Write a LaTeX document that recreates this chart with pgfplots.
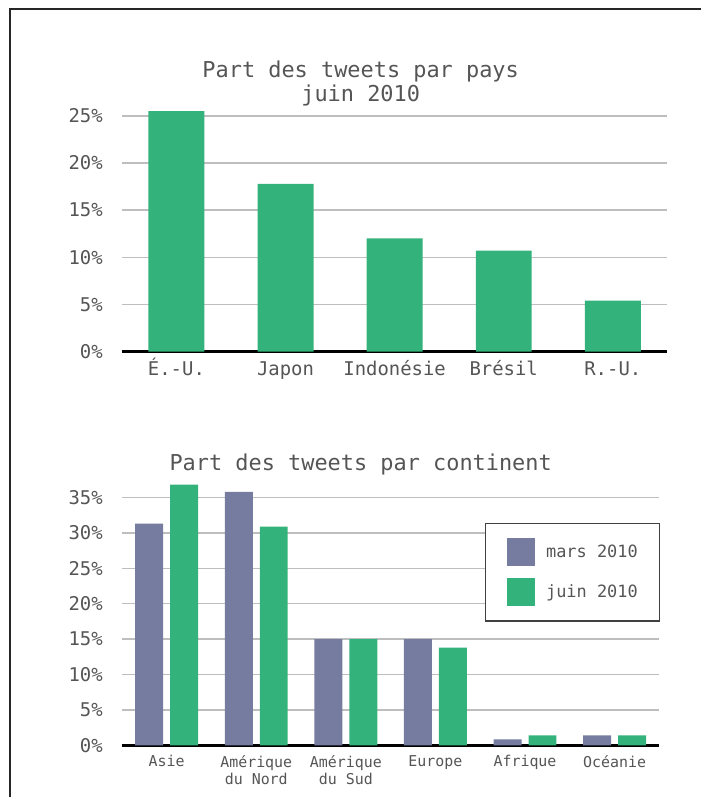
\documentclass[border=0pt]{standalone}
\usepackage{pgfplots}
\pgfplotsset{compat=1.18}
\usepackage{fontspec}
\setmainfont{DejaVu Sans Mono}
\definecolor{vert}{RGB}{52,178,123}
\definecolor{mauve}{RGB}{118,124,160}
\definecolor{txt}{RGB}{85,85,85}
\definecolor{grille}{RGB}{190,190,190}
\pgfplotsset{
  layers/mylayers/.define layer set={axis background,axis grid,axis ticks,main,axis lines,axis tick labels,axis descriptions,axis foreground}{},
  common/.style={
    set layers=mylayers,
    scale only axis, anchor=south west,
    axis x line=bottom, axis y line=left,
    x axis line style={-, black, line width=2.5bp},
    y axis line style={draw=none},
    major tick length=0pt,
    ymajorgrids, grid style={grille, line width=1.5bp},
    /pgf/number format/assume math mode=true,
    yticklabel style={anchor=east, inner sep=0pt, xshift=-19bp, font=\fontsize{19}{22}\selectfont, text=txt},
  },
}
\begin{document}
\begin{tikzpicture}
\path (0bp,0bp) (702bp,798bp);
\draw[line width=1.5bp, black!85] (10bp,0bp) -- (10bp,789bp) -- (702bp,789bp);
\node[anchor=base, font=\fontsize{22}{24}\selectfont, text=txt] at (361bp,720bp) {Part des tweets par pays};
\node[anchor=base, font=\fontsize{22}{24}\selectfont, text=txt] at (361bp,696bp) {juin 2010};
\node[anchor=base, font=\fontsize{22}{24}\selectfont, text=txt] at (361bp,327bp) {Part des tweets par continent};

\begin{axis}[common,
  at={(122bp,446bp)}, width=546bp, height=254.9bp,
  xmin=-0.5, xmax=4.5, ymin=0, ymax=27,
  xtick={0,1,2,3,4}, xticklabels={É.-U.,Japon,Indonésie,Brésil,R.-U.},
  ytick={0,5,10,15,20,25}, yticklabels={0\%,5\%,10\%,15\%,20\%,25\%},
  xticklabel style={anchor=base, inner sep=0pt, yshift=-24bp, font=\fontsize{19}{22}\selectfont, text=txt},
  ybar, bar width=56bp,
]
\addplot[fill=vert, draw=none] coordinates {(0,25.5) (1,17.8) (2,12.0) (3,10.7) (4,5.4)};
\end{axis}

\begin{axis}[common,
  at={(122bp,52bp)}, width=538bp, height=269.3bp,
  xmin=-0.5, xmax=5.5, ymin=0, ymax=38,
  xtick={0,1,2,3,4,5}, xticklabels={Asie,{Amérique\\du Nord},{Amérique\\du Sud},Europe,Afrique,Océanie},
  ytick={0,5,10,15,20,25,30,35}, yticklabels={0\%,5\%,10\%,15\%,20\%,25\%,30\%,35\%},
  xticklabel style={align=center, anchor=north, inner sep=0pt, yshift=-10bp, font=\fontsize{15}{17}\selectfont, text=txt},
  ybar=7bp, bar width=28bp,
  legend style={at={(0.6747,0.828)}, anchor=north west, draw=black!75, line width=1.2bp, fill=white,
    inner xsep=22bp, inner ysep=15bp, row sep=12bp, column sep=11bp,
    font=\fontsize{17}{20}\selectfont, text=txt, nodes={inner sep=0pt, anchor=west}},
  legend cell align=left,
]
\addplot[fill=mauve, draw=none, legend image code/.code={\fill[mauve] (0bp,-14bp) rectangle (28bp,14bp);}]
  coordinates {(0,31.3) (1,35.8) (2,15.0) (3,15.0) (4,0.85) (5,1.4)};
\addplot[fill=vert, draw=none, legend image code/.code={\fill[vert] (0bp,-14bp) rectangle (28bp,14bp);}]
  coordinates {(0,36.8) (1,30.9) (2,15.0) (3,13.8) (4,1.4) (5,1.4)};
\legend{mars 2010, juin 2010}
\end{axis}
\end{tikzpicture}
\end{document}
